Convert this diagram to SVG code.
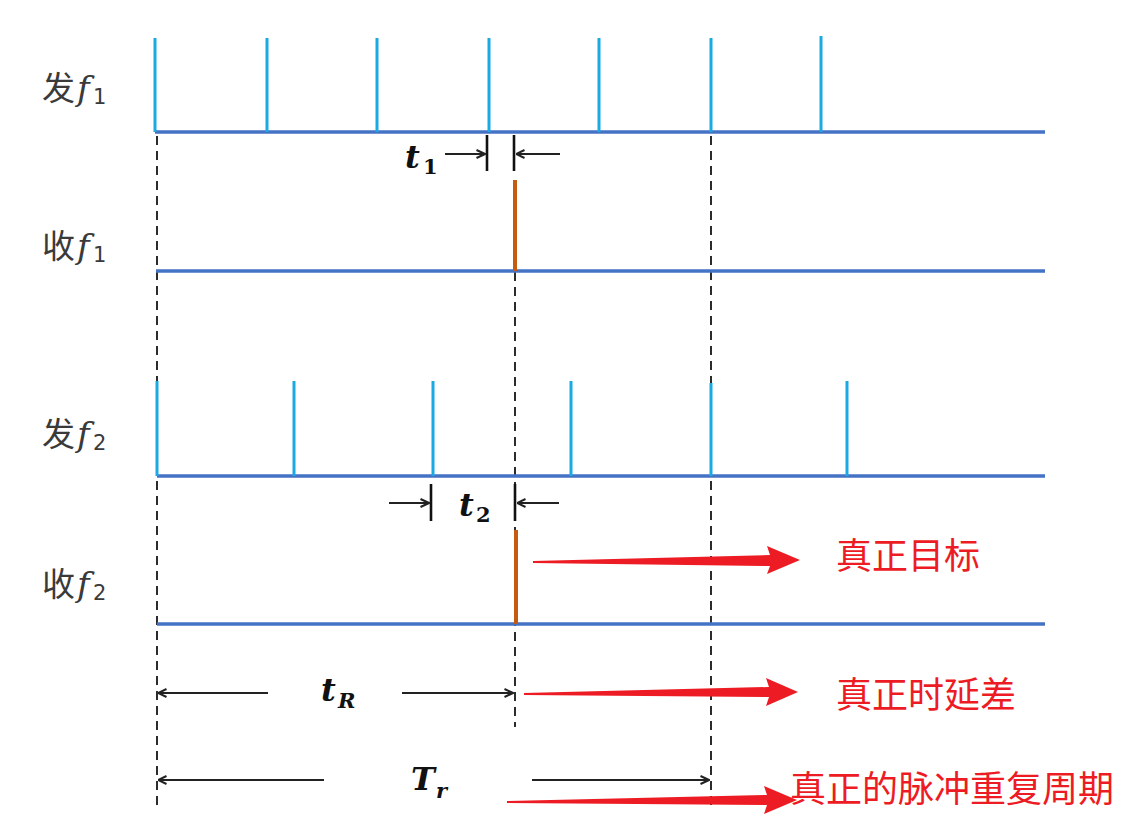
<svg xmlns="http://www.w3.org/2000/svg" width="1122" height="836" viewBox="0 0 1122 836">
<style>
.pulse{stroke:#1BA9E1;stroke-width:3;fill:none}
.base{stroke:#4472C4;stroke-width:3.5;fill:none}
.echo{stroke:#C55A11;stroke-width:4;fill:none}
.dash{stroke:#222;stroke-width:1.9;stroke-dasharray:9,6;fill:none}
.mark{stroke:#111;stroke-width:2.6;fill:none}
.dim{stroke:#222;stroke-width:2.2;fill:none}
.red{fill:#ED1C24}
.cjk{font-family:"Noto Sans CJK SC",sans-serif;font-size:33px;fill:#3a3a3a}
.fit{font-family:"DejaVu Serif",serif;font-style:italic;font-size:34px;fill:#3a3a3a}
.sub{font-family:"DejaVu Sans",sans-serif;font-size:21px;fill:#3a3a3a}
.math{font-family:"DejaVu Serif",serif;font-style:italic;font-weight:bold;font-size:32px;fill:#111}
.msub{font-family:"DejaVu Serif",serif;font-weight:bold;font-size:21px;fill:#111}
.note{font-family:"Noto Sans CJK SC",sans-serif;font-size:36px;fill:#ED1C24}
</style>
<defs>
<marker id="ah" viewBox="0 0 10 10" refX="9.5" refY="5" markerWidth="10" markerHeight="10" markerUnits="userSpaceOnUse" orient="auto">
<path d="M1,1 L9.5,5 L1,9" fill="none" stroke="#222" stroke-width="2"/>
</marker>
</defs>

<g id="connectors">
<line class="dash" x1="157" y1="136" x2="157" y2="810"/>
<line class="dash" x1="711" y1="136" x2="711" y2="810"/>
<line class="dash" x1="515" y1="272" x2="515" y2="727"/>
<line class="mark" x1="487" y1="135" x2="487" y2="171"/>
<line class="mark" x1="514" y1="135" x2="514" y2="171"/>
<line class="dim" x1="445" y1="154" x2="485" y2="154" marker-end="url(#ah)"/>
<line class="dim" x1="560" y1="154" x2="516" y2="154" marker-end="url(#ah)"/>
<line class="mark" x1="431" y1="484" x2="431" y2="521"/>
<line class="mark" x1="515" y1="484" x2="515" y2="521"/>
<line class="dim" x1="389" y1="503" x2="429" y2="503" marker-end="url(#ah)"/>
<line class="dim" x1="559" y1="503" x2="517" y2="503" marker-end="url(#ah)"/>
<line class="dim" x1="268" y1="693" x2="158" y2="693" marker-end="url(#ah)"/>
<line class="dim" x1="402" y1="693" x2="513" y2="693" marker-end="url(#ah)"/>
<line class="dim" x1="324" y1="780" x2="158" y2="780" marker-end="url(#ah)"/>
<line class="dim" x1="532" y1="780" x2="709" y2="780" marker-end="url(#ah)"/>
<polygon class="red" points="533,561 770,555 767,546 800,560 767,574 770,566 533,563"/>
<polygon class="red" points="524,693 769,687 766,678 798,692 766,706 769,697 524,695"/>
<polygon class="red" points="507,801 767,795 764,786 797,800 764,814 767,805 507,803"/>
</g>

<g id="tx-f1">
<text class="cjk" x="42" y="100">发</text>
<text class="fit" x="77" y="100">f</text>
<text class="sub" x="93" y="104">1</text>
<line class="base" x1="155" y1="132" x2="1045" y2="132"/>
<path class="pulse" d="M155,38V132M267,38V132M377,38V132M489,38V132M599,38V132M711,38V132M821,36V132"/>
</g>

<g id="rx-f1">
<text class="cjk" x="42" y="258">收</text>
<text class="fit" x="77" y="258">f</text>
<text class="sub" x="93" y="262">1</text>
<line class="base" x1="156" y1="271" x2="1045" y2="271"/>
<line class="echo" x1="515" y1="180" x2="515" y2="271"/>
</g>

<g id="tx-f2">
<text class="cjk" x="42" y="446">发</text>
<text class="fit" x="77" y="446">f</text>
<text class="sub" x="93" y="450">2</text>
<line class="base" x1="157" y1="476" x2="1045" y2="476"/>
<path class="pulse" d="M157,381V476M294,381V476M433,381V476M571,381V476M711,383V476M847,381V476"/>
</g>

<g id="rx-f2">
<text class="cjk" x="42" y="596">收</text>
<text class="fit" x="77" y="596">f</text>
<text class="sub" x="93" y="600">2</text>
<line class="base" x1="157" y1="624" x2="1045" y2="624"/>
<line class="echo" x1="516" y1="530" x2="516" y2="624"/>
</g>

<g id="label-t1">
<text class="math" x="405" y="168">t</text>
<text class="msub" x="423" y="174">1</text>
</g>
<g id="label-t2">
<text class="math" x="459" y="516">t</text>
<text class="msub" x="476" y="522">2</text>
</g>
<g id="label-tR">
<text class="math" x="321" y="701">t</text>
<text class="msub" x="338" y="708" font-style="italic">R</text>
</g>
<g id="label-Tr">
<text class="math" x="411" y="790" font-size="34">T</text>
<text class="msub" x="436" y="798" font-style="italic">r</text>
</g>

<g id="note-target"><text class="note" x="836" y="569">真正目标</text></g>
<g id="note-delay"><text class="note" x="836" y="708">真正时延差</text></g>
<g id="note-prf"><text class="note" x="790" y="802">真正的脉冲重复周期</text></g>
</svg>
